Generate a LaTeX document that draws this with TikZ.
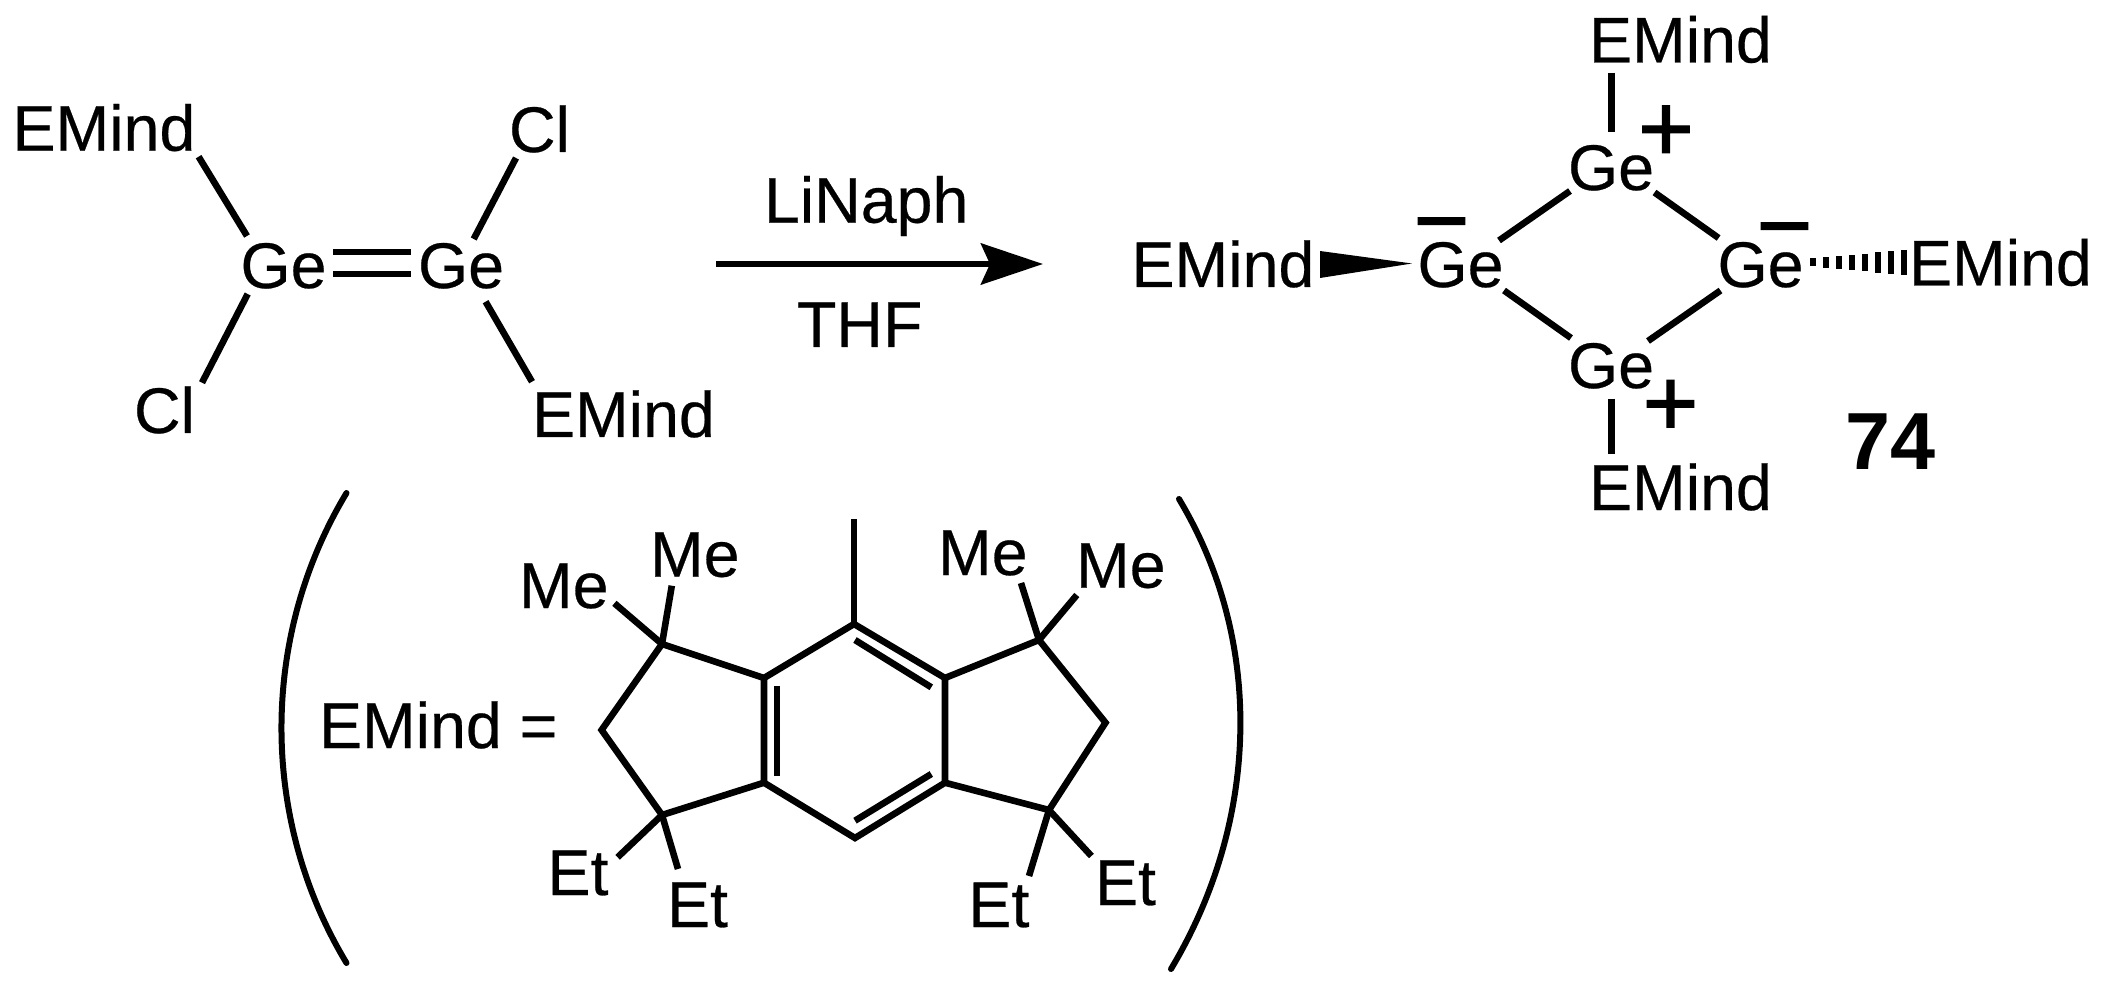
\documentclass[tikz,border=0pt]{standalone}
\usepackage{fontspec}
\setmainfont{Liberation Sans}
\newfontfamily\lblfont[FakeBold=0.4]{Liberation Sans}
\newfontfamily\chgfont[FakeBold=1.2]{Liberation Sans}
\usetikzlibrary{calc,arrows.meta}
\tikzset{
  bondline/.style={line width=3.3pt,line cap=butt,line join=miter,miter limit=4,black},
  parenline/.style={line width=3pt,line cap=round,black},
  lbl/.style={anchor=base west,inner sep=0pt,outer sep=0pt,font=\fontsize{32.25}{36}\lblfont},
  boldlbl/.style={anchor=base west,inner sep=0pt,outer sep=0pt,font=\fontsize{40.5}{44}\selectfont\bfseries},
  charge/.style={anchor=center,inner sep=0pt,outer sep=0pt,font=\fontsize{48}{52}\chgfont},
}
\begin{document}
\begin{tikzpicture}[x=0.5pt,y=-0.5pt]
\useasboundingbox (0,0) rectangle (2105,994);
% ---- digermene
\node[lbl] (eTL) at (12.5,150.7) {EMind};
\node[lbl] (clT) at (509,152) {Cl};
\node[lbl] (geA) at (240.5,288) {Ge};
\node[lbl] (geB) at (418,288) {Ge};
\node[lbl] (clB) at (134,433) {Cl};
\node[lbl] (eBR) at (532,437) {EMind};
\coordinate (a1) at (198.6,156.7); \coordinate (a2) at (247,236);
\coordinate (a3) at (516,158);     \coordinate (a4) at (473.7,239);
\coordinate (a5) at (247.7,294);   \coordinate (a6) at (202,382.7);
\coordinate (a7) at (485.6,301.7); \coordinate (a8) at (532,381.7);
\coordinate (d1) at (333,252); \coordinate (d2) at (410.5,252);
\coordinate (d3) at (333,274); \coordinate (d4) at (410.5,274);
\draw[bondline] (a1) -- (a2);
\draw[bondline] (a3) -- (a4);
\draw[bondline] (a5) -- (a6);
\draw[bondline] (a7) -- (a8);
\draw[bondline] (d1) -- (d2);
\draw[bondline] (d3) -- (d4);
% ---- arrow
\node[lbl] (li) at (764,222.7) {LiNaph};
\node[lbl] (thf) at (797,347) {THF};
\coordinate (arS) at (716,264); \coordinate (arE) at (1043,264);
\draw[bondline,-{Stealth[length=31pt,width=20.5pt,inset=4.5pt]}] (arS) -- (arE);
% ---- product ring
\node[lbl] (eN) at (1589,62.5) {EMind};
\node[lbl] (eS) at (1589,510) {EMind};
\node[lbl] (eW) at (1131.5,287) {EMind};
\node[lbl] (eE) at (1909,285.5) {EMind};
\node[lbl] (geN) at (1568,190) {Ge};
\node[lbl] (geS) at (1568,388) {Ge};
\node[lbl] (geW) at (1417.5,287) {Ge};
\node[lbl] (geE) at (1717.5,287) {Ge};
\node[boldlbl] (cmpd) at (1845,470) {74};
\node[charge] (pN) at (1666,133.5) {+};
\node[charge] (pS) at (1670.5,408) {+};
\node[charge] (mW) at (1441.5,235.5) {−};
\node[charge] (mE) at (1784.5,240.5) {−};
\coordinate (r1) at (1611.5,72.6);  \coordinate (r2) at (1611.5,131.8);
\coordinate (r3) at (1570,191);     \coordinate (r4) at (1499,240.5);
\coordinate (r5) at (1654.5,192.5); \coordinate (r6) at (1718.6,238);
\coordinate (r7) at (1504,290.5);   \coordinate (r8) at (1571,338);
\coordinate (r9) at (1720.5,290.5); \coordinate (r10) at (1648,341);
\coordinate (r11) at (1611.5,398.6);\coordinate (r12) at (1611.5,454);
\draw[bondline] (r1) -- (r2);
\draw[bondline] (r3) -- (r4);
\draw[bondline] (r5) -- (r6);
\draw[bondline] (r7) -- (r8);
\draw[bondline] (r9) -- (r10);
\draw[bondline] (r11) -- (r12);
% wedge
\coordinate (w1) at (1412,263.5); \coordinate (w2) at (1320,251); \coordinate (w3) at (1320,278);
\fill[black] (w1) -- (w2) -- (w3) -- cycle;
% hash
\coordinate (h1) at (1813,258.5); \coordinate (h2) at (1813,266.5);
\coordinate (h3) at (1904,250);   \coordinate (h4) at (1904,275);
\foreach \t in {0,0.143,0.286,0.429,0.571,0.714,0.857,1}
  \draw[line width=2.7pt,black] ($(h1)!\t!(h3)$) -- ($(h2)!\t!(h4)$);
% ---- EMind ligand
\node[lbl] (eDef) at (319,748) {EMind =};
\node[lbl] (me1) at (519,608) {Me};
\node[lbl] (me2) at (650,576.7) {Me};
\node[lbl] (me3) at (938,575) {Me};
\node[lbl] (me4) at (1076,587.7) {Me};
\node[lbl] (et1) at (547.5,895) {Et};
\node[lbl] (et2) at (667,927) {Et};
\node[lbl] (et3) at (968.4,927) {Et};
\node[lbl] (et4) at (1095,905) {Et};
\coordinate (cT) at (854,624);  \coordinate (cM) at (854,519.3);
\coordinate (cRU) at (945,678); \coordinate (cLU) at (764,678);
\coordinate (cLD) at (764,782.7); \coordinate (cRD) at (945,782.7);
\coordinate (cB) at (855,838);
\coordinate (qLU) at (662,644); \coordinate (cL) at (601.6,730); \coordinate (qLD) at (662,815);
\coordinate (qRU) at (1039,640); \coordinate (cR) at (1105.5,722.7); \coordinate (qRD) at (1049,810);
\coordinate (m1) at (614.4,603.3); \coordinate (m2) at (671.8,585.7);
\coordinate (m3) at (1021,583);    \coordinate (m4) at (1076.8,595);
\coordinate (t1) at (617.6,857.3); \coordinate (t2) at (678,869);
\coordinate (t3) at (1029,876);    \coordinate (t4) at (1091.4,856);
\coordinate (i1) at (777,686);  \coordinate (i2) at (777,776);
\coordinate (i3) at (855,640);  \coordinate (i4) at (931.3,687.3);
\coordinate (i5) at (855,820.7);\coordinate (i6) at (931.3,774);
\draw[bondline] (cT) -- (cRU) -- (cRD) -- (cB) -- (cLD) -- (cLU) -- cycle;
\draw[bondline] (cLU) -- (qLU) -- (cL) -- (qLD) -- (cLD);
\draw[bondline] (cRU) -- (qRU) -- (cR) -- (qRD) -- (cRD);
\draw[bondline] (cT) -- (cM);
\draw[bondline] (qLU) -- (m1);
\draw[bondline] (qLU) -- (m2);
\draw[bondline] (qRU) -- (m3);
\draw[bondline] (qRU) -- (m4);
\draw[bondline] (qLD) -- (t1);
\draw[bondline] (qLD) -- (t2);
\draw[bondline] (qRD) -- (t3);
\draw[bondline] (qRD) -- (t4);
\draw[bondline] (i1) -- (i2);
\draw[bondline] (i3) -- (i4);
\draw[bondline] (i5) -- (i6);
% ---- parentheses
\coordinate (pa1) at (346.5,493); \coordinate (pa2) at (346.5,963);
\coordinate (pb1) at (1179,499);  \coordinate (pb2) at (1171,969);
\draw[parenline] (pa1) .. controls (259.8,637) and (259.8,819) .. (pa2);
\draw[parenline] (pb1) .. controls (1266,644) and (1258,824) .. (pb2);
\end{tikzpicture}
\end{document}
